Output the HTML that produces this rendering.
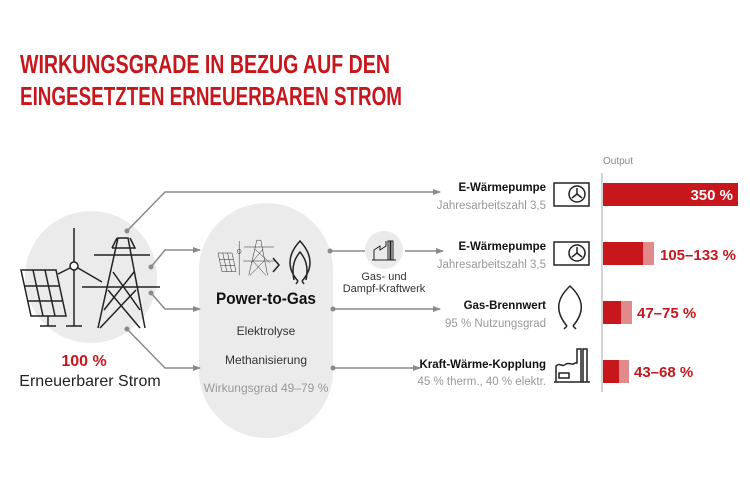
<!DOCTYPE html>
<html><head><meta charset="utf-8"><style>
html,body{margin:0;padding:0;background:#fff;}
svg{display:block;font-family:"Liberation Sans Narrow","Liberation Sans",sans-serif;}
</style></head><body>
<svg width="750" height="482" viewBox="0 0 750 482" xmlns="http://www.w3.org/2000/svg">
<defs>
<marker id="ah" markerWidth="8" markerHeight="8" refX="7" refY="4" orient="auto" markerUnits="userSpaceOnUse">
<path d="M0,1 L8,4 L0,7 Z" fill="#8a8a8a"/></marker>
</defs>
<text x="20" y="73" font-size="26" font-weight="bold" fill="#c8161d" textLength="370" lengthAdjust="spacingAndGlyphs">WIRKUNGSGRADE IN BEZUG AUF DEN</text>
<text x="20" y="105" font-size="26" font-weight="bold" fill="#c8161d" textLength="382" lengthAdjust="spacingAndGlyphs">EINGESETZTEN ERNEUERBAREN STROM</text>

<circle cx="91" cy="277" r="66" fill="#ebebeb"/>
<rect x="199" y="203" width="134" height="235" rx="67" fill="#ebebeb"/>
<circle cx="384" cy="250" r="19" fill="#ebebeb"/>

<g stroke="#8a8a8a" stroke-width="1.5" fill="none">
<polyline points="127,231 165,192 440,192" marker-end="url(#ah)"/>
<polyline points="151,267 165,250 200,250" marker-end="url(#ah)"/>
<polyline points="151,293 165,309 200,309" marker-end="url(#ah)"/>
<polyline points="127,329 165,368 200,368" marker-end="url(#ah)"/>
<line x1="330" y1="251" x2="365" y2="251"/>
<line x1="405" y1="251" x2="443" y2="251" marker-end="url(#ah)"/>
<line x1="333" y1="309" x2="440" y2="309" marker-end="url(#ah)"/>
<line x1="333" y1="368" x2="420" y2="368" marker-end="url(#ah)"/>
</g>
<g fill="#8a8a8a">
<circle cx="127" cy="231" r="2.5"/><circle cx="151" cy="267" r="2.5"/><circle cx="151" cy="293" r="2.5"/><circle cx="127" cy="329" r="2.5"/>
<circle cx="330" cy="251" r="2.5"/><circle cx="333" cy="309" r="2.5"/><circle cx="333" cy="368" r="2.5"/>
</g>

<g stroke="#222" stroke-width="1.5" fill="none">
<path d="M21,270 L56,270 L66,316 L31,316 Z"/>
<path d="M24,286 L59,286 M28,301 L62,301 M33,270 L43,316 M45,270 L55,316"/>
<path d="M48,316 L48,326 M40,326 L56,326"/>
<line x1="74" y1="228" x2="74" y2="326"/><line x1="66" y1="326" x2="82" y2="326"/>
<circle cx="74" cy="266" r="4" fill="#fff"/>
<line x1="70" y1="268" x2="58" y2="274"/><line x1="78" y1="268" x2="102" y2="282"/>
<path d="M98,328 L118,238 L128,238 L145,328 M112,248 L135,248 L130,238 M112,248 L117,238 M113,272 L140,310 M134,272 L104,310 M108,290 L140,328 M136,290 L100,328"/>
<line x1="94" y1="255" x2="150" y2="255"/><line x1="82" y1="287" x2="160" y2="287"/>
</g>

<g stroke="#222" stroke-width="1.2" fill="none" transform="translate(216,245) scale(0.4)">
<path d="M5,20 L40,20 L50,66 L15,66 Z M8,36 L43,36 M12,51 L47,51 M17,20 L27,66 M29,20 L39,66"/>
<line x1="58" y1="-10" x2="58" y2="76"/><circle cx="58" cy="16" r="5"/>
<path d="M82,76 L102,-12 L112,-12 L129,76 M97,10 L135,45 M118,10 L88,45 M92,40 L125,76 M120,40 L85,76"/>
<line x1="70" y1="5" x2="145" y2="5"/><line x1="68" y1="40" x2="150" y2="40"/>
</g>
<path d="M273,258 L279,265 L273,272" stroke="#222" stroke-width="1.5" fill="none"/>
<path d="M298,281 C288,270 286,256 300,241 C314,256 312,270 302,281 M298,281 L296,284 M302,281 L304,284 M294,280 C291,266 295,258 300,252 C305,258 309,266 306,280" stroke="#222" stroke-width="1.5" fill="none"/>

<text x="266" y="304" font-size="17" font-weight="bold" fill="#111" text-anchor="middle" textLength="100" lengthAdjust="spacingAndGlyphs">Power-to-Gas</text>
<text x="266" y="335" font-size="12" fill="#333" text-anchor="middle">Elektrolyse</text>
<text x="266" y="364" font-size="12" fill="#333" text-anchor="middle">Methanisierung</text>
<text x="266" y="392" font-size="12" fill="#999" text-anchor="middle">Wirkungsgrad 49–79 %</text>

<text x="84" y="366" font-size="16" font-weight="bold" fill="#c8161d" text-anchor="middle">100 %</text>
<text x="90" y="386" font-size="16" fill="#222" text-anchor="middle">Erneuerbarer Strom</text>

<path d="M374,260 L374,250 L380,246 L380,250 L386,246 L386,241 M388,260 L388,241 L390,241 L390,260 M391,260 L391,241 L393,241 L393,260 M372,260 L396,260" stroke="#222" stroke-width="1" fill="none"/>
<text x="384" y="280" font-size="11" fill="#333" text-anchor="middle">Gas- und</text>
<text x="384" y="292" font-size="11" fill="#333" text-anchor="middle">Dampf-Kraftwerk</text>

<g font-size="11.5" text-anchor="end">
<text x="546" y="191" font-weight="bold" fill="#111">E-Wärmepumpe</text>
<text x="546" y="209" fill="#999">Jahresarbeitszahl 3,5</text>
<text x="546" y="250" font-weight="bold" fill="#111">E-Wärmepumpe</text>
<text x="546" y="268" fill="#999">Jahresarbeitszahl 3,5</text>
<text x="546" y="309" font-weight="bold" fill="#111">Gas-Brennwert</text>
<text x="546" y="327" fill="#999">95 % Nutzungsgrad</text>
<text x="546" y="368" font-weight="bold" fill="#111">Kraft-Wärme-Kopplung</text>
<text x="546" y="385" fill="#999">45 % therm., 40 % elektr.</text>
</g>

<g stroke="#222" stroke-width="1.5" fill="none">
<rect x="554" y="183" width="35" height="23"/><circle cx="577" cy="194" r="8"/><path d="M577,194 L577,188 M577,194 L572,198 M577,194 L582,198"/>
<rect x="554" y="242" width="35" height="23"/><circle cx="577" cy="253" r="8"/><path d="M577,253 L577,247 M577,253 L572,257 M577,253 L582,257"/>
<path d="M567,326 C556,313 555,300 570,286 C585,300 584,313 573,326 M567,326 L564,329 M573,326 L576,329"/>
<path d="M556,382 L556,366 C560,362 562,368 566,364 C570,362 572,366 575,363 L577,363 L577,349 L581,349 L581,382 M583,382 L583,349 L587,349 L587,382 M554,382 L590,382"/>
<rect x="559" y="373" width="10" height="5"/>
</g>

<text x="603" y="164" font-size="10" fill="#888">Output</text>
<line x1="602" y1="173" x2="602" y2="392" stroke="#aaa" stroke-width="1"/>
<rect x="603" y="183" width="135" height="23" fill="#c8161d"/>
<text x="733" y="200" font-size="15" font-weight="bold" fill="#fff" text-anchor="end">350 %</text>
<rect x="603" y="242" width="51" height="23" fill="#e08a8c"/><rect x="603" y="242" width="40" height="23" fill="#c8161d"/>
<text x="660" y="260" font-size="15" font-weight="bold" fill="#c8161d">105–133 %</text>
<rect x="603" y="301" width="29" height="23" fill="#e08a8c"/><rect x="603" y="301" width="18" height="23" fill="#c8161d"/>
<text x="637" y="318" font-size="15" font-weight="bold" fill="#c8161d">47–75 %</text>
<rect x="603" y="360" width="26" height="23" fill="#e08a8c"/><rect x="603" y="360" width="16" height="23" fill="#c8161d"/>
<text x="634" y="377" font-size="15" font-weight="bold" fill="#c8161d">43–68 %</text>
</svg>
</body></html>
